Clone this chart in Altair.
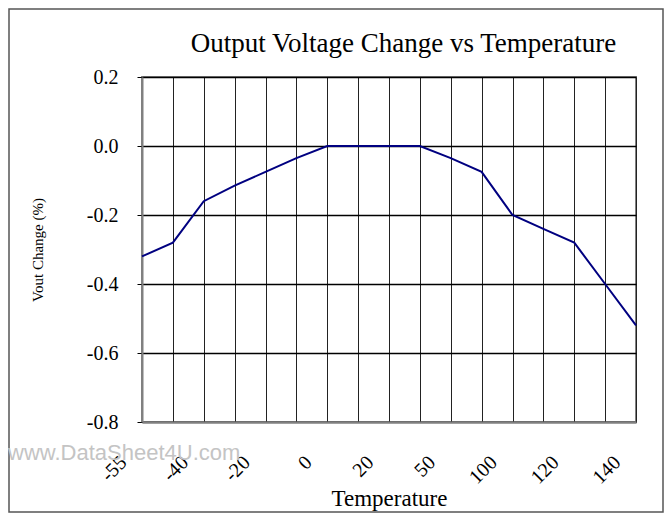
import altair as alt
import pandas as pd

# data
idx = list(range(17))
vout = [-0.32, -0.28, -0.16, -0.115, -0.075, -0.035, 0.0, 0.0, 0.0, 0.0,
        -0.035, -0.075, -0.2, -0.24, -0.28, -0.4, -0.52]
temp_labels = ["-55", "-40", "-20", "0", "20", "50", "100", "120", "140"]
y_ticks = [-0.8, -0.6, -0.4, -0.2, 0.0, 0.2]
title_text = "Output Voltage Change vs Temperature"

df = pd.DataFrame({"i": idx, "v": vout})

SERIF = "Liberation Serif"
arr = "[" + ",".join("'%s'" % t for t in temp_labels) + "]"
label_expr = "datum.value % 2 == 0 ? " + arr + "[datum.value / 2] : ''"
y_label_expr = "replace(format(datum.value, '.1f'), '\u2212', '-')"

W, H = 494, 345

line = alt.Chart(df).mark_line(color="#000080", strokeWidth=2).encode(
    x=alt.X("i:Q",
            scale=alt.Scale(domain=[0, 16], nice=False, zero=False),
            axis=alt.Axis(values=idx, labelExpr=label_expr, title="Temperature",
                          labelAngle=-45, labelAlign="right", labelBaseline="middle",
                          labelFont=SERIF, labelFontSize=20, labelColor="black",
                          labelPadding=37, labelOffset=-19, labelOverlap=False,
                          labelBound=False, labelFlush=False,
                          titleFont=SERIF, titleFontSize=23, titleFontWeight="normal",
                          titleColor="black", titleY=83, titleBaseline="alphabetic",
                          grid=True, gridColor="#222222", gridWidth=1,
                          domainColor="#808080", domainWidth=2,
                          ticks=False)),
    y=alt.Y("v:Q",
            scale=alt.Scale(domain=[-0.8, 0.2], nice=False, zero=False),
            axis=alt.Axis(values=y_ticks, labelExpr=y_label_expr, title="Vout Change (%)",
                          labelFont=SERIF, labelFontSize=20, labelColor="black",
                          labelPadding=19,
                          titleFont=SERIF, titleFontSize=15, titleFontWeight="normal",
                          titleColor="black", titlePadding=41,
                          grid=True, gridColor="black", gridWidth=1.6,
                          domainColor="#808080", domainWidth=2,
                          ticks=True, tickSize=5, tickColor="black")),
)

one = pd.DataFrame({"a": [0]})
border = alt.Chart(one).mark_rect(fill=None, stroke="#555555", strokeWidth=1.5).encode(
    x=alt.value(-133), x2=alt.value(521), y=alt.value(-68), y2=alt.value(435)
)
watermark = alt.Chart(one).mark_text(
    text="www.DataSheet4U.com", font="Liberation Sans", fontSize=22,
    color="#c4c4c4", align="left", baseline="alphabetic"
).encode(x=alt.value(-134), y=alt.value(383))
title = alt.Chart(one).mark_text(
    text=title_text, font=SERIF, fontSize=27, color="black",
    align="center", baseline="alphabetic"
).encode(x=alt.value(261.5), y=alt.value(-25))

chart = alt.layer(line, border, watermark, title).properties(
    width=W, height=H,
    padding={"left": 134, "top": 69, "right": 28, "bottom": 91},
    autosize="none",
).configure_view(stroke="#808080", strokeWidth=2)

chart.save("out.html", embed_options={"renderer": "svg", "actions": False})
